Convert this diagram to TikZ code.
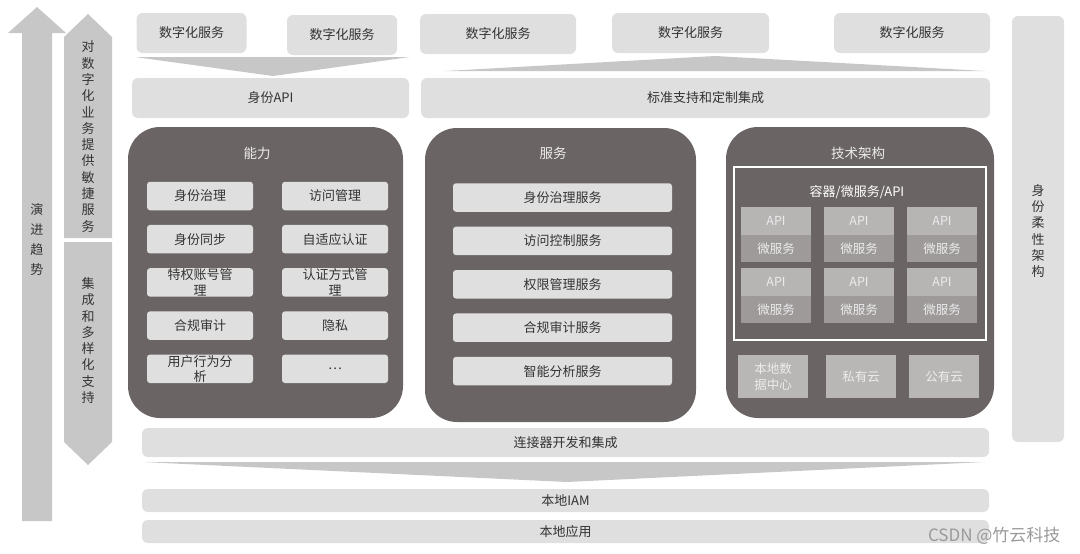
\documentclass[tikz,border=0pt]{standalone}
\usepackage{fontspec}
\setmainfont{Noto Sans CJK SC}
\usetikzlibrary{positioning}

\definecolor{panelgray}{HTML}{6B6464}
\definecolor{palegray}{HTML}{E0DFDF}
\definecolor{arrowgray}{HTML}{C8C7C8}
\definecolor{apitop}{HTML}{B7B4B4}
\definecolor{apibot}{HTML}{9E9A9A}
\definecolor{sitegray}{HTML}{B9B6B6}
\definecolor{txtgray}{HTML}{333333}
\definecolor{titlegray}{HTML}{ECECEC}
\definecolor{wmgray}{HTML}{9A9A9A}

\begin{document}
\begin{tikzpicture}[x=1pt, y=-1pt,
  bar/.style={fill=palegray, rounded corners=6pt, inner sep=0pt, text=txtgray, font=\fontsize{13}{15}\selectfont},
  cell/.style={bar, rounded corners=3pt, minimum height=28.5, align=center, font=\fontsize{13}{15.5}\selectfont},
  panel/.style={fill=panelgray, rounded corners=32pt, inner sep=0pt},
  ptitle/.style={text=titlegray, font=\fontsize{13.5}{15}\selectfont},
  apicell/.style={fill=apitop, minimum width=70, minimum height=28, inner sep=0pt, text=titlegray, font=\fontsize{12.5}{14}\selectfont},
  mscell/.style={apicell, fill=apibot, minimum height=27},
  sitebox/.style={fill=sitegray, minimum width=70, minimum height=43, inner sep=0pt, align=center, text=titlegray, font=\fontsize{12.5}{16}\selectfont},
  vtext/.style={align=center, text=txtgray, font=\fontsize{13}{16.3}\selectfont},
  trend/.style={fill=arrowgray}]

  \useasboundingbox (0,0) rectangle (1080,554);

  % ---- left side: evolution arrows ----
  \fill[trend] (22,521) -- (22,33) -- (8,33) -- (37,7) -- (66,33) -- (52,33) -- (52,521) -- cycle;
  \node[vtext, font=\fontsize{13}{20}\selectfont] (evo) at (37,240) {演\\进\\趋\\势};
  \fill[trend] (64,238) -- (64,37) -- (88,14) -- (112,37) -- (112,238) -- cycle;
  \node[vtext] (agile) at (88,136.5) {对\\数\\字\\化\\业\\务\\提\\供\\敏\\捷\\服\\务};
  \fill[trend] (64,242) -- (112,242) -- (112,442) -- (88,465) -- (64,442) -- cycle;
  \node[vtext] (integ) at (88,340.5) {集\\成\\和\\多\\样\\化\\支\\持};

  % ---- right side column ----
  \node[bar, minimum width=52, minimum height=426] (flex) at (1038,229) {};
  \node[vtext] (flex-t) at (1038,231) {身\\份\\柔\\性\\架\\构};

  % ---- digital services on top ----
  \node[bar, minimum width=110, minimum height=40] (dig1) at (191.5,33) {数字化服务};
  \node[bar, minimum width=110, minimum height=40] (dig2) at (342,35) {数字化服务};
  \node[bar, minimum width=156, minimum height=40] (dig3) at (498,34) {数字化服务};
  \node[bar, minimum width=157, minimum height=40] (dig4) at (690.5,33) {数字化服务};
  \node[bar, minimum width=156, minimum height=40] (dig5) at (912,33) {数字化服务};

  % funnels between services and API layer
  \fill[trend] (135,57) -- (410,57) -- (273,76) -- cycle;
  \fill[trend] (445,71) -- (715,56) -- (985,71) -- cycle;

  \node[bar, minimum width=277, minimum height=40] (idapi) at (270.5,98) {身份API};
  \node[bar, minimum width=569, minimum height=40] (std) at (705.5,98) {标准支持和定制集成};

  % ---- ability panel ----
  \node[panel, minimum width=275, minimum height=291] (abl) at (265.5,272.5) {};
  \node[ptitle] (abl-t) at (257,153) {能力};
  \foreach \lbl [count=\i] in {身份治理, 身份同步, {特权账号管\\理}, 合规审计, {用户行为分\\析}}
    \node[cell, minimum width=106] (abl-l\i) at (200,{196+43.2*(\i-1)}) {\lbl};
  \foreach \lbl [count=\i] in {访问管理, 自适应认证, {认证方式管\\理}, 隐私, …}
    \node[cell, minimum width=106] (abl-r\i) at (335,{196+43.2*(\i-1)}) {\lbl};

  % ---- service panel ----
  \node[panel, minimum width=271, minimum height=294] (srv) at (560.5,275) {};
  \node[ptitle] (srv-t) at (553,153) {服务};
  \foreach \lbl [count=\i] in {身份治理服务, 访问控制服务, 权限管理服务, 合规审计服务, 智能分析服务}
    \node[cell, minimum width=219] (srv-\i) at (562.5,{197.5+43.4*(\i-1)}) {\lbl};

  % ---- tech architecture panel ----
  \node[panel, minimum width=268, minimum height=291] (tech) at (860,272.5) {};
  \node[ptitle] (tech-t) at (858,153) {技术架构};
  \node[draw=white, line width=1.2pt, minimum width=252, minimum height=173, inner sep=0pt] (ctr) at (860,253.5) {};
  \node[text=white, font=\fontsize{13}{15}\selectfont] (ctr-t) at (857,192) {容器/微服务/API};
  \foreach \r/\y in {1/221, 2/282}
    \foreach \c/\x in {1/776, 2/859, 3/942} {
      \node[apicell] (api-\r\c) at (\x,\y) {API};
      \node[mscell, below=0pt of api-\r\c] (ms-\r\c) {微服务};
    }
  \node[sitebox] (dc) at (773,376.5) {本地数\\据中心};
  \node[sitebox] (priv) at (861,376.5) {私有云};
  \node[sitebox] (pub) at (944,376.5) {公有云};

  % ---- connector and local layers ----
  \node[bar, minimum width=847, minimum height=29] (conn) at (565.5,442.5) {连接器开发和集成};
  \fill[trend] (142,462) -- (985,462) -- (567,482) -- cycle;
  \node[bar, minimum width=847, minimum height=23] (iam) at (565.5,500.5) {本地IAM};
  \node[bar, minimum width=847, minimum height=23] (app) at (565.5,531.5) {本地应用};

  \node[anchor=east, text=wmgray, font=\fontsize{17}{17}\selectfont] (mark) at (1064,536) {CSDN @竹云科技};
\end{tikzpicture}
\end{document}
